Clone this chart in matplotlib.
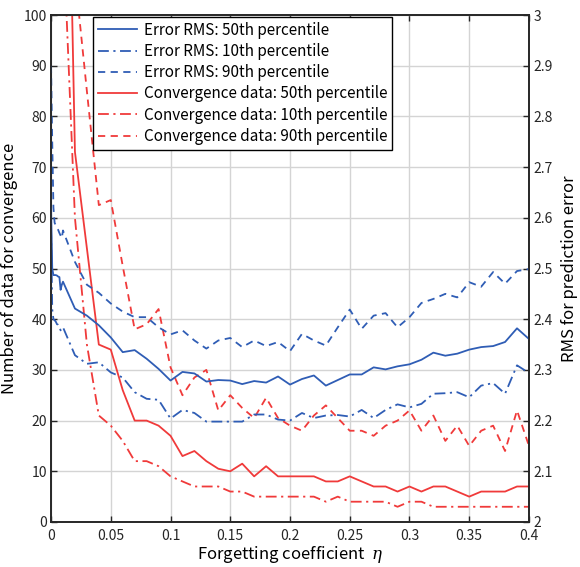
import matplotlib
matplotlib.use('Agg')
import matplotlib.pyplot as plt

plt.rcParams['font.family'] = ['Noto Sans CJK JP', 'DejaVu Sans']
plt.rcParams['mathtext.fontset'] = 'dejavuserif'

# forgetting coefficient for the RMS curves (finer steps close to zero)
eta_rms = [0, 0.001, 0.002, 0.003, 0.004, 0.005, 0.006, 0.007, 0.008, 0.009, 0.01,
           0.02, 0.03, 0.04, 0.05, 0.06, 0.07, 0.08, 0.09, 0.10,
           0.11, 0.12, 0.13, 0.14, 0.15, 0.16, 0.17, 0.18, 0.19, 0.20,
           0.21, 0.22, 0.23, 0.24, 0.25, 0.26, 0.27, 0.28, 0.29, 0.30,
           0.31, 0.32, 0.33, 0.34, 0.35, 0.36, 0.37, 0.38, 0.39, 0.40]

rms_p50 = [2.62, 2.50, 2.487, 2.487, 2.487, 2.486, 2.484, 2.483, 2.458, 2.468, 2.474,
           2.421, 2.407, 2.388, 2.364, 2.335, 2.339, 2.322, 2.302, 2.279,
           2.296, 2.293, 2.277, 2.280, 2.279, 2.272, 2.278, 2.275, 2.287, 2.271,
           2.282, 2.289, 2.269, 2.280, 2.291, 2.291, 2.305, 2.301, 2.307, 2.311,
           2.320, 2.334, 2.328, 2.332, 2.340, 2.345, 2.347, 2.355, 2.382, 2.361]

rms_p10 = [2.58, 2.42, 2.40, 2.398, 2.395, 2.39, 2.389, 2.385, 2.378, 2.382, 2.384,
           2.329, 2.312, 2.315, 2.295, 2.285, 2.256, 2.243, 2.241, 2.204,
           2.221, 2.215, 2.198, 2.198, 2.198, 2.198, 2.212, 2.212, 2.202, 2.200,
           2.215, 2.205, 2.210, 2.211, 2.208, 2.221, 2.205, 2.221, 2.232, 2.226,
           2.233, 2.253, 2.254, 2.256, 2.246, 2.269, 2.274, 2.253, 2.309, 2.294]

rms_p90 = [2.90, 2.75, 2.62, 2.59, 2.585, 2.58, 2.576, 2.57, 2.565, 2.56, 2.575,
           2.513, 2.468, 2.452, 2.431, 2.415, 2.404, 2.404, 2.384, 2.370,
           2.378, 2.358, 2.342, 2.358, 2.363, 2.345, 2.358, 2.347, 2.355, 2.337,
           2.371, 2.358, 2.348, 2.384, 2.419, 2.381, 2.407, 2.412, 2.384, 2.404,
           2.432, 2.440, 2.450, 2.443, 2.473, 2.464, 2.493, 2.470, 2.495, 2.499]

# forgetting coefficient for the convergence curves
eta_conv = [0.01, 0.02, 0.03, 0.04, 0.05, 0.06, 0.07, 0.08, 0.09, 0.10,
            0.11, 0.12, 0.13, 0.14, 0.15, 0.16, 0.17, 0.18, 0.19, 0.20,
            0.21, 0.22, 0.23, 0.24, 0.25, 0.26, 0.27, 0.28, 0.29, 0.30,
            0.31, 0.32, 0.33, 0.34, 0.35, 0.36, 0.37, 0.38, 0.39, 0.40]

conv_p50 = [190, 73, 54, 35, 34, 26, 20, 20, 19, 17,
            13, 14, 12, 10.5, 10, 11.5, 9, 11, 9, 9,
            9, 9, 8, 8, 9, 8, 7, 7, 6, 7,
            6, 7, 7, 6, 5, 6, 6, 6, 7, 7]

conv_p10 = [117, 60, 35, 21, 19, 16, 12, 12, 11, 9,
            8, 7, 7, 7, 6, 6, 5, 5, 5, 5,
            5, 5, 4, 5, 4, 4, 4, 4, 3, 4,
            4, 3, 3, 3, 3, 3, 3, 3, 3, 3]

conv_p90 = [150, 108, 85, 62.5, 63.5, 50.5, 38, 39, 42, 30.5,
            25, 28.5, 30, 22, 25, 22.5, 20.5, 24.5, 20.5, 19,
            18, 21, 23, 20.5, 18, 18, 17, 19, 20, 22,
            18, 21, 16, 19, 15, 18, 19, 14, 22, 15]

x_ticks = [0, 0.05, 0.1, 0.15, 0.2, 0.25, 0.3, 0.35, 0.4]
x_tick_labels = ['0', '0.05', '0.1', '0.15', '0.2', '0.25', '0.3', '0.35', '0.4']
left_ticks = [0, 10, 20, 30, 40, 50, 60, 70, 80, 90, 100]
right_ticks = [2, 2.1, 2.2, 2.3, 2.4, 2.5, 2.6, 2.7, 2.8, 2.9, 3]
right_tick_labels = ['2', '2.1', '2.2', '2.3', '2.4', '2.5', '2.6', '2.7', '2.8', '2.9', '3']

blue = '#2F5DB5'
red = '#F03A3A'
axis_col = '#262626'
lw = 1.3
dashdot = (0, (6, 2.5, 1.2, 2.5))
dashed = (0, (4, 3))

fig = plt.figure(figsize=(5.8, 5.67), dpi=100)
ax = fig.add_axes([0.088, 0.0794, 0.824, 0.8941])
ax2 = ax.twinx()

l4, = ax.plot(eta_conv, conv_p50, color=red, lw=lw, ls='-',
              label='Convergence data: 50th percentile')
l5, = ax.plot(eta_conv, conv_p10, color=red, lw=lw, ls=dashdot,
              label='Convergence data: 10th percentile')
l6, = ax.plot(eta_conv, conv_p90, color=red, lw=lw, ls=dashed,
              label='Convergence data: 90th percentile')

l1, = ax2.plot(eta_rms, rms_p50, color=blue, lw=lw, ls='-',
               label='Error RMS: 50th percentile')
l2, = ax2.plot(eta_rms, rms_p10, color=blue, lw=lw, ls=dashdot,
               label='Error RMS: 10th percentile')
l3, = ax2.plot(eta_rms, rms_p90, color=blue, lw=lw, ls=dashed,
               label='Error RMS: 90th percentile')

ax.set_xlim(0, 0.4)
ax.set_ylim(0, 100)
ax2.set_ylim(2, 3)

ax.set_xticks(x_ticks)
ax.set_xticklabels(x_tick_labels)
ax.set_yticks(left_ticks)
ax2.set_yticks(right_ticks)
ax2.set_yticklabels(right_tick_labels)

ax.grid(True, color='#d4d4d4', lw=1.0)
ax.set_axisbelow(True)

ax.tick_params(axis='both', direction='in', length=4, width=1.0, colors=axis_col,
               labelsize=10, top=True, pad=3)
ax.tick_params(axis='x', pad=5)
ax.tick_params(axis='y', right=False)
ax2.tick_params(axis='y', direction='in', length=4, width=1.0, colors=axis_col,
                labelsize=10, pad=3)
for a in (ax, ax2):
    for s in a.spines.values():
        s.set_color(axis_col)
        s.set_linewidth(1.2)

ax.set_xlabel('Forgetting coefficient  $\\mathit{\\eta}$', fontsize=12, labelpad=1)
ax.set_ylabel('Number of data for convergence', fontsize=12, labelpad=4)
ax2.set_ylabel('RMS for prediction error', fontsize=12, labelpad=6)

leg = ax2.legend(handles=[l1, l2, l3, l4, l5, l6], loc='upper left',
                 bbox_to_anchor=(0.088, 0.996), borderaxespad=0, fontsize=11,
                 frameon=True, fancybox=False, edgecolor='black', framealpha=1,
                 handlelength=2.6, handletextpad=0.45, labelspacing=0.28,
                 borderpad=0.3)
leg.get_frame().set_linewidth(1.0)

fig.savefig('out.png', dpi=100)
